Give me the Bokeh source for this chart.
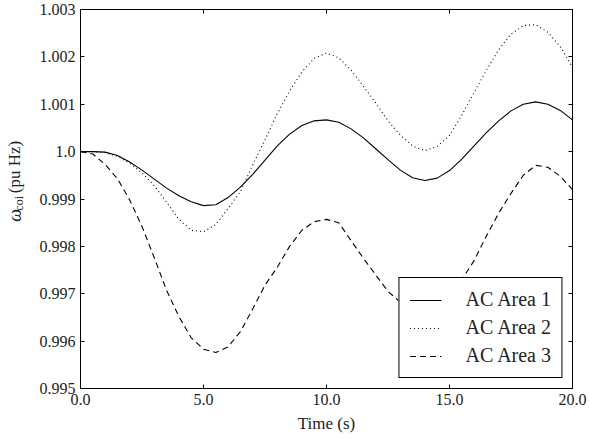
import numpy as np
from bokeh.plotting import figure
from bokeh.layouts import row
from bokeh.models import (Range1d, FixedTicker, LinearAxis, Legend, LegendItem,
                          CustomJSTickFormatter)
from bokeh.core.properties import value
from bokeh.embed import file_html
from bokeh.resources import INLINE

# ---------------- data ----------------
time_s = [0.0, 0.5, 1.0, 1.5, 2.0, 2.5, 3.0, 3.5, 4.0, 4.5,
          5.0, 5.5, 6.0, 6.5, 7.0, 7.5, 8.0, 8.5, 9.0, 9.5,
          10.0, 10.5, 11.0, 11.5, 12.0, 12.5, 13.0, 13.5, 14.0, 14.5,
          15.0, 15.5, 16.0, 16.5, 17.0, 17.5, 18.0, 18.5, 19.0, 19.5, 20.0]

area1 = [1.00000, 1.00000, 0.99999, 0.99992, 0.99978, 0.99961, 0.99942, 0.99923, 0.99907, 0.99894,
         0.99886, 0.99888, 0.99903, 0.99925, 0.99952, 0.99982, 1.00012, 1.00037, 1.00055, 1.00065,
         1.00067, 1.00062, 1.00048, 1.00029, 1.00006, 0.99983, 0.99961, 0.99945, 0.99939, 0.99944,
         0.99960, 0.99984, 1.00012, 1.00040, 1.00065, 1.00086, 1.00100, 1.00105, 1.00100, 1.00087, 1.00067]

area2 = [1.00000, 1.00000, 0.99998, 0.99990, 0.99976, 0.99955, 0.99928, 0.99893, 0.99857, 0.99834,
         0.99831, 0.99846, 0.99880, 0.99915, 0.99972, 1.00025, 1.00080, 1.00128, 1.00168, 1.00197,
         1.00208, 1.00198, 1.00172, 1.00138, 1.00103, 1.00065, 1.00035, 1.00012, 1.00002, 1.00011,
         1.00034, 1.00077, 1.00125, 1.00172, 1.00215, 1.00248, 1.00266, 1.00268, 1.00252, 1.00222, 1.00178]

area3 = [1.00000, 0.99995, 0.99973, 0.99943, 0.99898, 0.99842, 0.99776, 0.99707, 0.99652, 0.99607,
         0.99583, 0.99576, 0.99588, 0.99620, 0.99668, 0.99718, 0.99756, 0.99800, 0.99834, 0.99852,
         0.99857, 0.99850, 0.99812, 0.99775, 0.99740, 0.99705, 0.99682, 0.99668, 0.99664, 0.99670,
         0.99692, 0.99730, 0.99770, 0.99822, 0.99870, 0.99912, 0.99950, 0.99971, 0.99967, 0.99948, 0.99920]

series_labels = ["AC Area 1", "AC Area 2", "AC Area 3"]

x_ticks = [0.0, 5.0, 10.0, 15.0, 20.0]
x_tick_labels = ["0.0", "5.0", "10.0", "15.0", "20.0"]
y_ticks = [0.995, 0.996, 0.997, 0.998, 0.999, 1.0, 1.001, 1.002, 1.003]
y_tick_labels = ["0.995", "0.996", "0.997", "0.998", "0.999", "1.0", "1.001", "1.002", "1.003"]

x_label = "Time (s)"
y_label_symbol = "ω"
y_label_sub = "coi"
y_label_unit = "(pu Hz)"

FONT = "Liberation Serif"
TOTAL_H = 438
LABEL_W = 30

# ---------------- narrow strip holding the rotated y-axis label ----------------
lab = figure(width=LABEL_W, height=TOTAL_H, output_backend="svg", toolbar_location=None,
             x_range=Range1d(0, LABEL_W), y_range=Range1d(0, TOTAL_H),
             x_axis_type=None, y_axis_type=None,
             min_border=0, min_border_left=0, min_border_right=0,
             min_border_top=0, min_border_bottom=0)
lab.outline_line_color = None
lab.background_fill_color = "white"
lab.border_fill_color = "white"
lab.xgrid.visible = False
lab.ygrid.visible = False
txt_kw = dict(angle=np.pi / 2, text_align="center", text_baseline="middle",
              text_font=value(FONT), text_color="#222222")
lab.text(x=[14], y=[TOTAL_H - 238], text=[y_label_symbol], text_font_size="18px",
         text_font_style="italic", **txt_kw)
lab.text(x=[18], y=[TOTAL_H - 224], text=[y_label_sub], text_font_size="12px", **txt_kw)
lab.text(x=[14], y=[TOTAL_H - 182], text=[y_label_unit], text_font_size="17px", **txt_kw)

# ---------------- main figure ----------------
p = figure(width=588 - LABEL_W, height=TOTAL_H, output_backend="svg", toolbar_location=None,
           x_range=Range1d(0, 20), y_range=Range1d(0.995, 1.003),
           min_border_left=80 - LABEL_W, min_border_right=16, min_border_top=9,
           min_border_bottom=50)

p.background_fill_color = "white"
p.border_fill_color = "white"
p.outline_line_color = "black"
p.outline_line_width = 1
p.xgrid.visible = False
p.ygrid.visible = False


def fmt(tick_values, tick_texts):
    return CustomJSTickFormatter(args=dict(tv=tick_values, tl=tick_texts), code="""
        for (let i = 0; i < tv.length; i++) {
            if (Math.abs(tv[i] - tick) < 1e-9) { return tl[i]; }
        }
        return '';
    """)


blank = CustomJSTickFormatter(code="return '';")


def style_axis(ax, show_labels):
    ax.axis_line_color = "black"
    ax.major_tick_in = 4
    ax.major_tick_out = 0
    ax.minor_tick_line_color = None
    ax.major_tick_line_color = "black"
    ax.major_label_text_font = FONT
    ax.major_label_text_color = "#222222"
    ax.major_label_text_font_size = "16px"
    if not show_labels:
        ax.formatter = blank
        ax.major_label_standoff = 0


p.xaxis.ticker = FixedTicker(ticks=x_ticks)
p.yaxis.ticker = FixedTicker(ticks=y_ticks)
p.xaxis.formatter = fmt(x_ticks, x_tick_labels)
p.yaxis.formatter = fmt(y_ticks, y_tick_labels)
style_axis(p.xaxis[0], True)
style_axis(p.yaxis[0], True)
p.xaxis.major_label_standoff = 5
p.yaxis.major_label_standoff = 5
p.xaxis.axis_label = x_label
p.xaxis.axis_label_text_font = FONT
p.xaxis.axis_label_text_font_size = "17px"
p.xaxis.axis_label_text_font_style = "normal"
p.xaxis.axis_label_text_color = "#222222"
p.xaxis.axis_label_standoff = 6

top_axis = LinearAxis(ticker=FixedTicker(ticks=x_ticks))
right_axis = LinearAxis(ticker=FixedTicker(ticks=y_ticks))
style_axis(top_axis, False)
style_axis(right_axis, False)
p.add_layout(top_axis, "above")
p.add_layout(right_axis, "right")

r1 = p.line(time_s, area1, line_color="black", line_width=1.1)
r2 = p.line(time_s, area2, line_color="black", line_width=1.1, line_dash="1 3")
r3 = p.line(time_s, area3, line_color="black", line_width=1.1, line_dash="6 4")

legend = Legend(items=[LegendItem(label=series_labels[0], renderers=[r1]),
                       LegendItem(label=series_labels[1], renderers=[r2]),
                       LegendItem(label=series_labels[2], renderers=[r3])],
                location="bottom_right", margin=10, padding=10, spacing=5,
                glyph_height=22, glyph_width=32, label_standoff=24,
                border_line_color="black", border_line_width=1, border_line_alpha=1,
                background_fill_color="white", background_fill_alpha=1,
                label_text_font=FONT, label_text_font_size="20px",
                label_text_color="#222222")
p.add_layout(legend)

layout = row(lab, p, spacing=0)
open("out.html", "w").write(file_html(layout, INLINE))
